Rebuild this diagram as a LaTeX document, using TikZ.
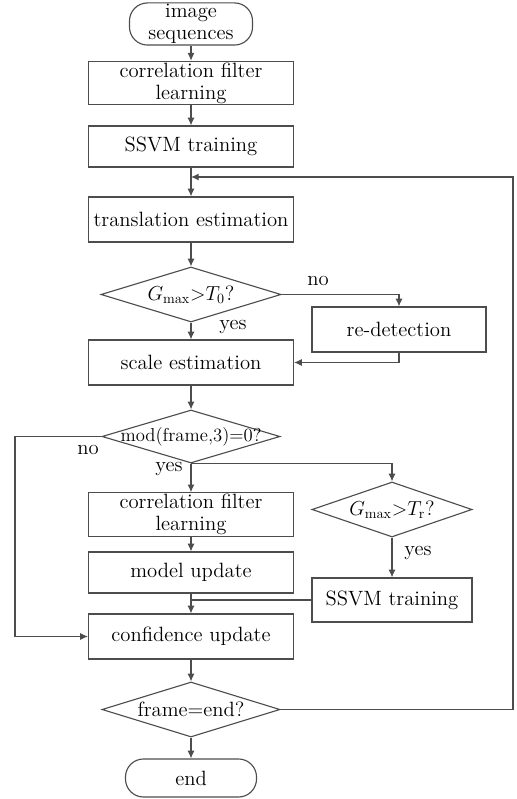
\documentclass[tikz,border=0pt]{standalone}
\usepackage{amsmath}
\usepackage{xcolor}
\usepackage{tikz}
\usetikzlibrary{shapes.geometric,arrows.meta}

\definecolor{linegray}{HTML}{4D4D4D}

\tikzset{
  box/.style={draw=linegray, line width=0.8pt, minimum width=5.125cm, minimum height=1.1cm, align=center, inner sep=1pt},
  decision/.style={diamond, draw=linegray, line width=0.8pt, inner sep=0pt, minimum width=4.5cm, minimum height=1.375cm},
  terminal/.style={draw=linegray, line width=0.8pt, rounded corners=0.45cm, align=center, inner sep=1pt},
  flow/.style={draw=linegray, line width=0.8pt, -{Latex[length=5.5pt,width=5pt]}},
  link/.style={draw=linegray, line width=0.8pt},
}

\begin{document}
\begin{tikzpicture}[x=0.025cm, y=-0.025cm, font=\fontsize{14.7}{15.5}\selectfont]
  \useasboundingbox (0,0) rectangle (516,799);

  % Main column
  \node[terminal, minimum width=3.075cm, minimum height=0.925cm] (start) at (191,24) {image\\sequences};
  \node[box, minimum height=1.05cm] (cfa) at (191,83) {correlation filter\\learning};
  \node[box, minimum height=1.025cm] (svma) at (191,146.5) {SSVM training};
  \node[box, minimum height=1.125cm] (trans) at (191,219.5) {translation estimation};
  \node[decision] (gzero) at (191,294.5) {\makebox[0pt]{$G_{\max}{>}T_0$?}};
  \node[box, minimum height=1.125cm] (scale) at (191,362.5) {scale estimation};
  \node[decision, minimum width=4.45cm, minimum height=1.325cm] (modf) at (191,436.5) {\makebox[0pt]{\fontsize{13.3}{13}\selectfont mod(frame,3)=0?}};
  \node[box, minimum height=1.025cm] (cfb) at (191,514.5) {correlation filter\\learning};
  \node[box, minimum height=1.025cm] (model) at (191,572.5) {model update};
  \node[box, minimum height=1.125cm] (conf) at (191,636.5) {confidence update};
  \node[decision, minimum width=4.45cm] (fend) at (191,709.5) {\makebox[0pt]{frame=end?}};
  \node[terminal, minimum width=3.275cm, minimum height=0.95cm] (stop) at (191,778) {end};

  % Side branches
  \node[box, minimum width=4.35cm, minimum height=1.125cm] (redet) at (399,329.5) {re-detection};
  \node[decision, minimum width=4cm] (gr) at (392,509.5) {\makebox[0pt]{$G_{\max}{>}T_{\mathrm{r}}$?}};
  \node[box, minimum width=4cm, minimum height=1.1cm] (svmb) at (392,600) {SSVM training};

  \coordinate (back) at (191,177);
  \coordinate (loopr) at (513,177);
  \coordinate (left) at (15,436.5);

  % Labels
  \node (noa) at (318,281) {no};
  \node (yesa) at (233,327) {yes};
  \node (nob) at (88,450) {no};
  \node (yesb) at (169,469) {yes};
  \node (yesc) at (418,553) {yes};

  % Connectors
  \draw[flow] (start) -- (cfa);
  \draw[flow] (cfa) -- (svma);
  \draw[flow] (svma) -- (trans);
  \draw[flow] (trans) -- (gzero);
  \draw[flow] (gzero) -- (scale);
  \draw[flow] (gzero.east) -| (redet.north);
  \draw[flow] (redet.south) |- (scale.east);
  \draw[flow] (scale) -- (modf);
  \draw[flow] (modf.west) -- (left) |- (conf.west);
  \draw[flow] (modf) -- (cfb);
  \draw[flow] (modf.south) -| (gr.north);
  \draw[flow] (cfb) -- (model);
  \draw[flow] (model) -- (conf);
  \draw[link] (svmb.west) -- (svmb.west -| conf.north);
  \draw[flow] (gr) -- (svmb);
  \draw[flow] (conf) -- (fend);
  \draw[flow] (fend) -- (stop);
  \draw[flow] (fend.east) -- (fend.east -| loopr) -- (loopr) -- (back);
\end{tikzpicture}
\end{document}
